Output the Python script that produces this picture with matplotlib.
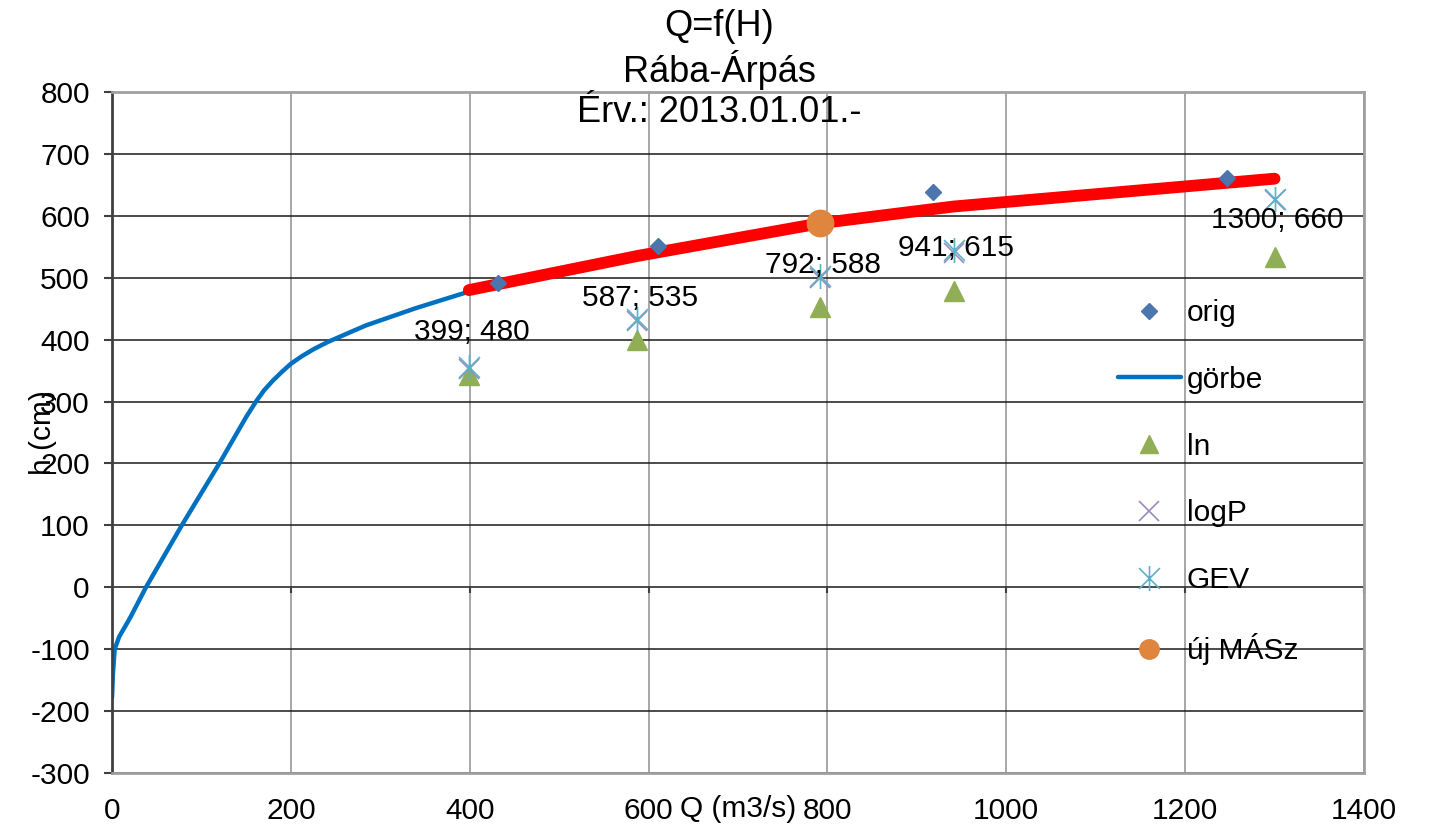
import matplotlib.pyplot as plt
from matplotlib.path import Path

plt.rcParams['font.family'] = ['Liberation Sans', 'DejaVu Sans']
plt.rcParams['axes.unicode_minus'] = False

# rating curve (görbe)
q_curve = [0, 1, 3, 8, 20, 38, 78, 120, 150, 161, 170, 180, 190, 200, 212, 226, 241,
           260, 284, 340, 400, 480]
h_curve = [-178, -140, -100, -80, -50, 0, 100, 200, 275, 300, 318, 334, 348, 361, 373,
           385, 396, 408, 423, 451, 478, 503]

# original measured points
q_orig = [432, 610, 918, 1247]
h_orig = [491, 551, 639, 661]

# fitted flood levels with labels
q_fit = [399, 587, 792, 941, 1300]
h_fit = [480, 535, 588, 615, 660]

# distribution estimates
q_dist = [399, 587, 792, 941, 1300]
h_ln = [343, 400, 452, 478, 534]
h_logp = [352, 430, 500, 540, 625]
h_gev = [355, 433, 503, 544, 627]

# new design level
q_new = [792]
h_new = [588]

x_ticks = list(range(0, 1401, 200))
y_ticks = list(range(-300, 801, 100))

FS = 21.5
W, H = 1439, 827

fig = plt.figure(figsize=(W / 100, H / 100), dpi=100)
ax = fig.add_axes([112 / W, 1 - 773 / H, (1364 - 112) / W, (773 - 92) / H])

ax.set_xlim(0, 1400)
ax.set_ylim(-300, 800)
ax.set_xticks(x_ticks)
ax.set_yticks(y_ticks)
ax.grid(axis='y', color='#1a1a1a', lw=1.1, zorder=0)
ax.grid(axis='x', color='#a0a0a0', lw=1.3, zorder=0)
ax.set_axisbelow(True)
for side in ['top', 'right', 'bottom']:
    ax.spines[side].set_color('#a0a0a0')
    ax.spines[side].set_linewidth(2)
ax.spines['left'].set_color('#404040')
ax.spines['left'].set_linewidth(2)
ax.tick_params(axis='y', direction='out', length=6, width=1.5, color='#404040',
               labelsize=FS, pad=10)
ax.tick_params(axis='x', length=0, labelsize=FS, pad=17)
# small tick marks on the zero line
ax.vlines(x_ticks[1:], -10, 0, color='#404040', lw=1.5, zorder=1)

# asterisk marker for GEV
star = Path([(-1, -1), (1, 1), (-1, 1), (1, -1), (0, -1.2), (0, 1.2)],
            [Path.MOVETO, Path.LINETO] * 3)

ax.plot(q_curve, h_curve, color='#0070c0', lw=3.2, zorder=2, label='görbe',
        solid_capstyle='round', solid_joinstyle='round')
ax.plot(q_fit, h_fit, color='#ff0000', lw=8.5, zorder=3, solid_capstyle='round',
        solid_joinstyle='round')
ax.plot(q_orig, h_orig, 'D', color='#4a76ad', ms=8, ls='none', zorder=5, label='orig')
ax.plot(q_dist, h_ln, '^', color='#8fae55', ms=15, ls='none', zorder=5, label='ln')
ax.plot(q_dist, h_logp, 'x', color='#9d8bbd', ms=14, mew=1.2, ls='none', zorder=6,
        label='logP')
ax.plot(q_dist, h_gev, marker=star, color='#5eb0c9', ms=18, mew=1.2, ls='none',
        zorder=6, label='GEV')
ax.plot(q_new, h_new, 'o', color='#e0853d', ms=19, ls='none', zorder=7,
        label='új MÁSz')

for q, h in zip(q_fit, h_fit):
    ax.annotate(f'{q}; {h}', (q, h), xytext=(2, -30), textcoords='offset points',
                ha='center', va='center', fontsize=FS, zorder=8)

handles, labels = ax.get_legend_handles_labels()
order = ['orig', 'görbe', 'ln', 'logP', 'GEV', 'új MÁSz']
hmap = dict(zip(labels, handles))
leg = ax.legend([hmap[k] for k in order], order, loc='upper left',
                bbox_to_anchor=(1118 / W, 1 - 299 / H), bbox_transform=fig.transFigure,
                frameon=False, fontsize=FS, handlelength=2.1, handletextpad=0.2,
                labelspacing=1.3, borderpad=0, borderaxespad=0)
leg.legend_handles[5].set_markersize(14)
leg.legend_handles[2].set_markersize(13)

ax.set_ylabel('h (cm)', fontsize=FS)
ax.yaxis.set_label_coords((57 - 112) / (1364 - 112), 0.5)
ax.set_xlabel('Q (m3/s)', fontsize=FS)
ax.xaxis.set_label_coords(0.5, (773 - 795) / (773 - 92))

fig.text(0.5, 1 - 27 / H, 'Q=f(H)', ha='center', va='center', fontsize=26)
fig.text(0.5, 1 - 70 / H, 'Rába-Árpás', ha='center', va='center', fontsize=26)
fig.text(0.5, 1 - 113 / H, 'Érv.: 2013.01.01.-', ha='center', va='center', fontsize=26)

fig.savefig('out.png', dpi=100)
